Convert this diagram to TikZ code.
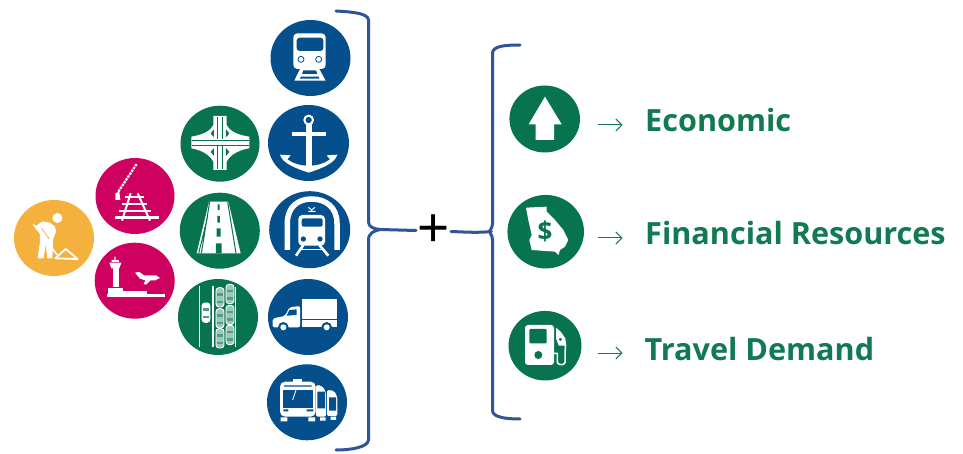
\documentclass[tikz,border=0pt]{standalone}
\usepackage{fontspec}
\setmainfont{Open Sans}
\newfontfamily\plusfont{Liberation Sans}
\usetikzlibrary{shapes.geometric,arrows.meta}
\definecolor{igreen}{HTML}{08734F}
\definecolor{iblue}{HTML}{054F8D}
\definecolor{imag}{HTML}{CE0060}
\definecolor{iora}{HTML}{F4B13D}
\definecolor{brc}{HTML}{2F5597}
\definecolor{tgreen}{HTML}{127A52}
\tikzset{
  disc/.style={shape=ellipse,inner sep=0pt,outer sep=0pt,minimum width=#1},
  g/.style={fill=igreen},
  b/.style={fill=iblue},
  za/.style={x=.33333pt,y=-.33333pt,yshift=-90pt},
  zb/.style={x=.33333pt,y=-.33333pt,xshift=260pt},
  zc/.style={x=.33333pt,y=-.33333pt,xshift=260pt,yshift=-220pt},
  zd/.style={x=.33333pt,y=-.33333pt,xshift=480pt,yshift=-30pt},
  brace/.style={draw=brc,line width=3pt,line cap=round,line join=round},
  lbl/.style={anchor=base west,inner sep=0pt,text=tgreen,font=\fontsize{30.6}{33}\selectfont\bfseries},
  arw/.style={draw=tgreen,line width=1pt,-{Straight Barb[length=6pt,width=12pt,line width=1pt]}},
  wl/.style={draw=white,line width=#1},
}
\newcommand{\roadcar}[3]{%
  \fill[#3,draw=white,line width=.9pt,rounded corners=3pt] (#1-12,#2-29) rectangle (#1+12,#2+29);
  \fill[igreen!70!white] (#1-8,#2-13) rectangle (#1+8,#2-5);
  \fill[igreen!70!white] (#1-8,#2+10) rectangle (#1+8,#2+17);
}
\begin{document}
\begin{tikzpicture}[x=1pt,y=-1pt]
\useasboundingbox (0,0) rectangle (963,454);
\fill[white] (0,0) rectangle (963,454);
% discs
\node[disc=80pt,minimum height=76pt,fill=iora] (worker) at (54,238) {};
\node[disc=79pt,minimum height=76pt,fill=imag] (rail) at (135,196) {};
\node[disc=80pt,minimum height=76pt,fill=imag] (air) at (134.7,280.7) {};
\node[disc=79pt,minimum height=76pt,g] (inter) at (220,143.7) {};
\node[disc=80pt,minimum height=76pt,g] (road) at (219.8,230.7) {};
\node[disc=80pt,minimum height=76pt,g] (traffic) at (218,317) {};
\node[disc=80pt,minimum height=76pt,b] (train) at (310.5,58) {};
\node[disc=81pt,minimum height=76pt,b] (anchor) at (308.5,143) {};
\node[disc=81pt,minimum height=77pt,b] (tunnel) at (309.7,229.7) {};
\node[disc=80pt,minimum height=76pt,b] (truck) at (308,317) {};
\node[disc=80pt,minimum height=76pt,b] (bus) at (307,402.3) {};
\node[disc=70.5pt,minimum height=67pt,g] (econ) at (544.7,119) {};
\node[disc=76.5pt,minimum height=73.5pt,g] (fin) at (545.7,231.7) {};
\node[disc=73pt,minimum height=69.5pt,g] (gas) at (545,345.7) {};
% worker
\begin{scope}[za]
 \fill[white] (172,384) circle[radius=15];
 \fill[white] (128,394)--(150,398)--(165,410)--(168,425)--(160,445)--(157,505)--(142,505)--(137,462)--(131,505)--(113,505)--(120,455)--(120,430)--(104,410)--(114,403)--cycle;
 \draw[iora,line width=.8pt] (124,414)--(148,447);
 \draw[wl=1.5pt] (100,403)--(172,495);
 \draw[wl=1.8pt,line join=round] (166,505)--(197,477)--(233,507)--cycle;
 % rail crossing
 \draw[white,line width=2.2pt,dash pattern=on 2.4pt off 1pt] (355,305)--(410,222);
 \fill[white] (346,310)--(358,305)--(361,330)--(346,330)--cycle;
 \draw[wl=2pt] (392,310)--(366,392) (413,310)--(450,392);
 \draw[wl=2pt] (375,322)--(432,322) (367,342)--(442,342) (358,362)--(452,362);
 \draw[wl=2.6pt] (346,382)--(478,382);
 % airport
 \fill[white] (343,500) rectangle (347,510) (335,510) rectangle (357,516);
 \fill[white] (328,518)--(364,518)--(358,535)--(334,535)--cycle;
 \fill[white] (338,535) rectangle (356,592);
 \fill[white] (325,594) rectangle (370,612);
 \fill[white] (320,612) rectangle (495,622);
 \fill[white] (370,603) rectangle (440,612);
 \fill[white] (405,548)--(418,546)--(432,556)--(468,556)--(480,564)--(466,571)--(452,571)--(440,583)--(431,583)--(436,571)--(420,566)--cycle;
 % interchange
 \fill[white] (640,78)--(680,78)--(680,105) .. controls (690,125) and (715,135) .. (748,140)--(748,175) .. controls (715,180) and (690,195) .. (680,215)--(680,240)--(640,240)--(640,215) .. controls (630,195) and (605,180) .. (574,175)--(574,140) .. controls (605,135) and (630,125) .. (640,105)--cycle;
 \draw[igreen,line width=.6pt] (576,150)--(746,150) (576,166)--(746,166) (653,80)--(653,148) (668,80)--(668,148) (653,168)--(653,238) (668,168)--(668,238);
 \fill[igreen] (632,130)--(642,118)--(642,142)--cycle (688,130)--(678,118)--(678,142)--cycle (632,186)--(642,198)--(642,174)--cycle (688,186)--(678,198)--(678,174)--cycle;
 % road
 \fill[white] (627,335)--(685,335)--(722,490)--(590,490)--cycle;
 \draw[igreen,line width=1pt] (629,335)--(604,490) (683,335)--(708,490) (623,380)--(596,490);
 \fill[igreen] (653,343) rectangle (659,360) (652,378) rectangle (660,398) (650,415) rectangle (662,440) (648,460) rectangle (665,490);
 % traffic
 \draw[wl=1pt] (598,588)--(598,770) (708,592)--(708,770);
 \draw[wl=1.7pt] (640,588)--(640,770);
 \roadcar{618}{668}{white}
 \roadcar{660}{622}{white!60!igreen}
 \roadcar{690}{612}{white!60!igreen}
 \roadcar{660}{685}{white!60!igreen}
 \roadcar{690}{675}{white!60!igreen}
 \roadcar{660}{745}{white!60!igreen}
 \roadcar{690}{735}{white!60!igreen}
\end{scope}
\begin{scope}[zb]
 % train
 \fill[white,rounded corners=4pt] (100,100) rectangle (197,207);
 \fill[iblue,rounded corners=3pt] (110,113) rectangle (190,153);
 \draw[iblue,line width=.8pt] (123,178) circle[radius=9] (176,178) circle[radius=9];
 \fill[white] (120,207)--(178,207)--(197,242)--(103,242)--cycle;
 \fill[iblue] (130,211)--(168,211)--(172,222)--(126,222)--cycle (122,230)--(176,230)--(178,236)--(120,236)--cycle;
 % anchor
 \draw[wl=2pt] (146,360) circle[radius=13];
 \fill[white] (138,372) rectangle (155,505);
 \fill[white] (95,397) rectangle (197,407);
 \fill[white] (60,464)--(92,466)--(82,478) .. controls (100,492) and (125,497) .. (140,497)--(152,497) .. controls (168,497) and (192,492) .. (210,478)--(200,466)--(232,464) .. controls (225,490) and (185,505) .. (146,518) .. controls (107,505) and (67,490) .. (60,464)--cycle;
 % tunnel
 \draw[wl=5.5pt] (82,750)--(82,670) .. controls (82,620) and (115,597) .. (155,597) .. controls (195,597) and (231,620) .. (231,670)--(231,750);
 \draw[wl=1pt] (145,622)--(155,630)--(165,622) (145,634)--(167,634);
 \fill[white,rounded corners=4pt] (115,645) rectangle (195,737);
 \fill[iblue,rounded corners=2pt] (125,655) rectangle (188,680);
 \fill[iblue] (130,717) circle[radius=8] (180,717) circle[radius=8];
 \draw[wl=2.6pt] (130,735)--(108,767) (178,735)--(205,767);
 \draw[wl=1.6pt] (122,748)--(188,748);
\end{scope}
\begin{scope}[zc]
 % truck
 \fill[white] (127,236) rectangle (232,296);
 \fill[white] (127,301) rectangle (232,322);
 \fill[white,rounded corners=2pt] (38,322)--(38,295)--(75,288)--(88,262)--(120,258)--(120,322)--cycle;
 \fill[iblue] (88,270)--(110,268)--(110,285)--(80,287)--cycle;
 \foreach \q in {70,200}{\fill[iblue] (\q,322) circle[radius=16]; \fill[white] (\q,322) circle[radius=9];}
 % buses
 \fill[white,rounded corners=2pt] (201,510)--(222,512)--(232,530)--(232,588)--(201,588)--cycle;
 \fill[white,rounded corners=2pt] (168,495)--(185,497)--(198,515)--(198,590)--(168,590)--cycle;
 \fill[iblue] (207,532) rectangle (228,572) (172,515) rectangle (195,565);
 \fill[white] (100,477) rectangle (125,486);
 \fill[white,rounded corners=5pt] (60,485) rectangle (167,590);
 \fill[iblue] (68,510) rectangle (160,565);
 \draw[wl=.8pt] (108,510)--(98,540);
 \fill[iblue] (70,568) rectangle (85,574) (140,568) rectangle (160,574) (72,496) rectangle (155,500);
 \fill[white] (62,592) rectangle (82,604) (145,592) rectangle (165,604) (180,592) rectangle (197,602) (212,590) rectangle (228,600);
\end{scope}
\begin{scope}[zd]
 % arrow
 \fill[white] (195,200)--(245,283)--(222,283)--(222,330)--(167,330)--(167,283)--(146,283)--cycle;
 % Georgia
 \fill[white] (138,533)--(200,530)--(200,545)--(225,570)--(250,600)--(265,630)--(255,650)--(240,660)--(235,675)--(225,665)--(155,660)--(148,630)--(155,615)--(145,570)--cycle;
 \node[inner sep=0pt,text=igreen,font=\fontsize{26}{28}\selectfont\bfseries] (dollar) at (195,604) {\$};
 % pump
 \fill[white,rounded corners=3pt] (135,885) rectangle (222,1005);
 \fill[igreen,rounded corners=1pt] (148,897) rectangle (200,940);
 \fill[igreen] (175,975) circle[radius=12];
 \draw[wl=1.5pt,line join=round] (222,970)--(232,970)--(232,998) .. controls (236,1006) and (252,1006) .. (255,998)--(256,945);
 \fill[white] (228,893)--(242,905)--(256,925)--(259,947)--(236,947)--(228,925)--cycle;
 \fill[igreen] (241,928) circle[radius=5];
\end{scope}
% braces
\coordinate (b1t) at (336,11);
\coordinate (b1b) at (336,450);
\coordinate (b1tip) at (380,229.5);
\coordinate (b1end) at (416,230.5);
\coordinate (b2t) at (520,45);
\coordinate (b2b) at (520,419);
\coordinate (b2tip) at (491,231.5);
\coordinate (b2end) at (451,231.5);
\path[brace] (b1t) .. controls (352,12) and (368,13) .. (368.5,20)--(368.5,222) .. controls (368.5,227) and (374,229) .. (b1tip) .. controls (374,231) and (368.5,233) .. (368.5,240)--(368.5,440) .. controls (368,447) and (352,450) .. (b1b);
\path[brace] (b1tip)--(b1end);
\path[brace] (b2t) .. controls (505,45) and (493,46) .. (492.5,53)--(492.5,224) .. controls (492.5,229) and (488,231) .. (b2tip) .. controls (488,232) and (492.5,234) .. (492.5,240)--(492.5,411) .. controls (493,417) and (505,419) .. (b2b);
\path[brace] (b2tip) .. controls (478,233) and (465,232) .. (b2end);
\node[inner sep=0pt,font=\plusfont\fontsize{55}{57}\selectfont] (plus) at (434,231) {+};
% labels
\coordinate (a1s) at (598,125);\coordinate (a1e) at (622.5,125);
\coordinate (a2s) at (598,238);\coordinate (a2e) at (622.5,238);
\coordinate (a3s) at (598,353);\coordinate (a3e) at (622.5,353);
\draw[arw] (a1s)--(a1e);
\draw[arw] (a2s)--(a2e);
\draw[arw] (a3s)--(a3e);
\node[lbl] (t1) at (645,131.7) {Economic};
\node[lbl] (t2) at (645,245) {Financial Resources};
\node[lbl] (t3) at (644.5,360) {Travel Demand};
\end{tikzpicture}
\end{document}
